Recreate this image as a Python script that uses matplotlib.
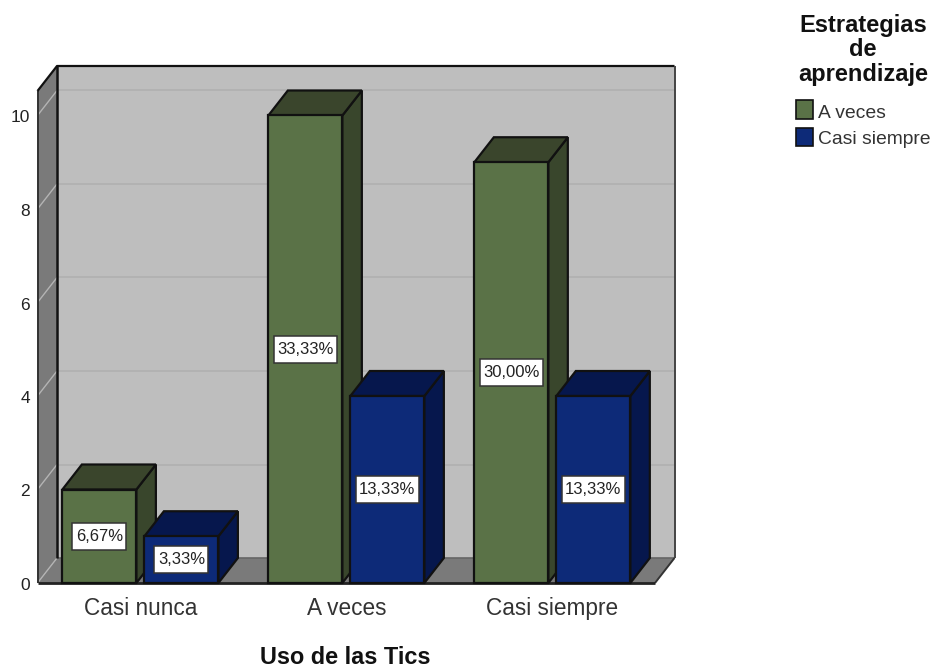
import matplotlib
matplotlib.use("Agg")
import matplotlib.pyplot as plt
from matplotlib.patches import Polygon, Rectangle
import numpy as np

plt.rcParams['font.family'] = ['Liberation Sans', 'DejaVu Sans']

categories = ["Casi nunca", "A veces", "Casi siempre"]
series_names = ["A veces", "Casi siempre"]
a_veces = [2, 10, 9]
casi_siempre = [1, 4, 4]
a_veces_labels = ["6,67%", "33,33%", "30,00%"]
casi_siempre_labels = ["3,33%", "13,33%", "13,33%"]
y_ticks = [0, 2, 4, 6, 8, 10]

W, H = 933, 669
fig = plt.figure(figsize=(W / 100, H / 100), dpi=100, facecolor='white')
L, R, T, B = 37.5, 655, 91, 583
ax = fig.add_axes([L / W, 1 - B / H, (R - L) / W, (B - T) / H])
ax.set_xlim(-0.4995, 2.4985)
ax.set_ylim(0, (B - T) / 46.75)
ax.axis('off')

DX, DY = 19.5, 25.0
sx = (ax.get_xlim()[1] - ax.get_xlim()[0]) / (R - L)
sy = ax.get_ylim()[1] / (B - T)
ddx, ddy = DX * sx, DY * sy
x0, x1 = ax.get_xlim()
y1 = ax.get_ylim()[1]
renderer = fig.canvas.get_renderer()

EDGE = '#111111'
def poly(pts, fc, ec=EDGE, lw=1.6, z=1):
    ax.add_patch(Polygon(pts, closed=True, fc=fc, ec=ec, lw=lw, zorder=z,
                         clip_on=False, joinstyle='miter'))

def seg(xs, ys, color=EDGE, lw=1.6, z=3):
    ax.plot(xs, ys, color=color, lw=lw, zorder=z, clip_on=False, solid_capstyle='butt')

# walls (fills first, borders above the gridlines)
poly([(x0 + ddx, ddy), (x1 + ddx, ddy), (x1 + ddx, y1 + ddy), (x0 + ddx, y1 + ddy)],
     '#bebebe', ec='none', z=1)
poly([(x0, 0), (x0 + ddx, ddy), (x0 + ddx, y1 + ddy), (x0, y1)], '#7a7a7a', ec='none', z=2)
poly([(x0, 0), (x1, 0), (x1 + ddx, ddy), (x0 + ddx, ddy)], '#7a7a7a', ec='none', z=2)

# gridlines
for v in [2, 4, 6, 8, 10]:
    seg([x0 + ddx, x1 + ddx], [v + ddy, v + ddy], color='#b0b0b0', lw=1.2, z=1.5)
    seg([x0, x0 + ddx], [v, v + ddy], color='#b4b4b4', lw=1.0, z=2.5)
seg([x0, x0 + ddx], [0, ddy], color='#b4b4b4', lw=1.0, z=2.5)

# borders
seg([x0 + ddx, x0 + ddx], [ddy, y1 + ddy], lw=1.8)
seg([x0, x0], [0, y1], color='#333333', lw=1.4)
seg([x0, x0 + ddx, x1 + ddx], [y1, y1 + ddy, y1 + ddy], lw=1.6)
seg([x1 + ddx, x1 + ddx], [y1 + ddy, ddy], color='#444444', lw=1.4)
seg([x1 + ddx, x1], [ddy, 0], color='#333333', lw=1.4)
seg([x0 + ddx, x1 + ddx], [ddy, ddy], color='#666666', lw=1.2, z=2.6)
seg([x0, x1], [0, 0], color='#222222', lw=2)

# bars
bw = 74 * sx
gap = 8 * sx
def bar(l, v, front, top, side, label, z):
    r = l + bw
    poly([(r, 0), (r + ddx, ddy), (r + ddx, v + ddy), (r, v)], side, z=z)
    poly([(l, v), (r, v), (r + ddx, v + ddy), (l + ddx, v + ddy)], top, z=z)
    ax.add_patch(Rectangle((l, 0), bw, v, fc=front, ec=EDGE, lw=1.6, zorder=z + 0.1, clip_on=False))
    xc, yc = (l + r) / 2, v / 2
    t = ax.text(xc, yc, label, ha='center', va='center', fontsize=12,
                color='#222222', zorder=z + 0.3)
    tw = t.get_window_extent(renderer).width
    bw_box = (tw + 7) * sx
    bh_box = 27 * sy
    ax.add_patch(Rectangle((xc - bw_box / 2, yc - bh_box / 2), bw_box, bh_box, fc='white',
                           ec='#333333', lw=1.1, zorder=z + 0.2, clip_on=False))

for i in range(len(categories)):
    bar(i - gap / 2 - bw, a_veces[i], '#5a7247', '#3a452c', '#39462c', a_veces_labels[i], 4)
    bar(i + gap / 2, casi_siempre[i], '#0d2a78', '#06174d', '#06174d', casi_siempre_labels[i], 5)

# tick labels
for v in y_ticks:
    ax.annotate(str(v), (x0, v), xytext=(-5.5, -1.8), textcoords='offset points', ha='right',
                va='center', fontsize=12.5, color='#222222')
for i, c in enumerate(categories):
    ax.annotate(c, (i, 0), xytext=(0, -10), textcoords='offset points', ha='center',
                va='top', fontsize=16.3, color='#333333')

fig.text(345 / W, 1 - 663.5 / H, "Uso de las Tics", ha='center', va='baseline',
         fontsize=16.9, fontweight='bold', color='#111111')

# legend
fig.text(863 / W, 1 - 50 / H, "Estrategias\nde\naprendizaje", ha='center', va='center',
         fontsize=17, fontweight='bold', color='#111111', linespacing=1.08)
fc = ['#5a7247', '#0d2a78']
for name, col, top, ty in zip(series_names, fc, [100, 127.5], [114, 140]):
    fig.add_artist(Rectangle((795.5 / W, 1 - (top + 18.5) / H), 17.5 / W, 18.5 / H,
                             transform=fig.transFigure, fc=col, ec=EDGE, lw=1.2))
    fig.text(818 / W, 1 - ty / H, name, ha='left', va='center', fontsize=13.9, color='#333333')

fig.savefig('out.png', dpi=100)
